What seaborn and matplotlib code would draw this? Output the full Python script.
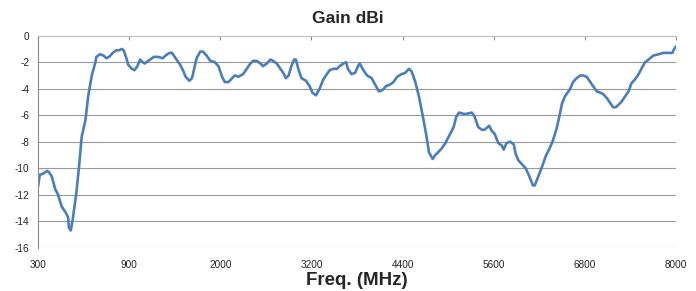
import numpy as np
import pandas as pd
import matplotlib
matplotlib.use("Agg")
import matplotlib.pyplot as plt
import seaborn as sns

# Category-axis position (0 = 300 MHz tick, 7 = 8000 MHz tick) and gain in dBi
pos = [0.00, 0.02, 0.06, 0.10, 0.12, 0.15, 0.19, 0.22, 0.26, 0.30, 0.33, 0.34, 0.36, 0.38,
       0.42, 0.45, 0.48, 0.52, 0.55, 0.59, 0.63, 0.64, 0.68, 0.72, 0.75, 0.78, 0.82, 0.86,
       0.89, 0.92, 0.94, 0.97, 0.99, 1.03, 1.06, 1.09, 1.12, 1.15, 1.17, 1.19, 1.23, 1.27,
       1.32, 1.37, 1.40, 1.44, 1.47, 1.52, 1.56, 1.59, 1.62, 1.66, 1.69, 1.71, 1.74, 1.78,
       1.81, 1.85, 1.89, 1.94, 1.98, 2.02, 2.05, 2.09, 2.13, 2.16, 2.20, 2.25, 2.29, 2.33,
       2.36, 2.40, 2.44, 2.47, 2.51, 2.55, 2.58, 2.62, 2.66, 2.69, 2.72, 2.75, 2.78, 2.81,
       2.83, 2.86, 2.89, 2.94, 2.98, 3.01, 3.05, 3.09, 3.13, 3.17, 3.20, 3.24, 3.28, 3.31,
       3.35, 3.38, 3.40, 3.44, 3.48, 3.51, 3.53, 3.57, 3.61, 3.66, 3.70, 3.74, 3.78, 3.82,
       3.86, 3.90, 3.94, 3.99, 4.03, 4.07, 4.10, 4.14, 4.18, 4.22, 4.26, 4.29, 4.33, 4.36,
       4.39, 4.43, 4.47, 4.50, 4.56, 4.59, 4.62, 4.67, 4.70, 4.76, 4.79, 4.83, 4.87, 4.90,
       4.95, 4.98, 5.01, 5.05, 5.09, 5.11, 5.14, 5.18, 5.22, 5.24, 5.27, 5.31, 5.35, 5.39,
       5.43, 5.45, 5.49, 5.53, 5.57, 5.62, 5.65, 5.69, 5.72, 5.75, 5.78, 5.84, 5.87, 5.91,
       5.95, 5.98, 6.02, 6.06, 6.09, 6.13, 6.17, 6.20, 6.24, 6.28, 6.31, 6.34, 6.37, 6.40,
       6.44, 6.48, 6.51, 6.55, 6.59, 6.62, 6.66, 6.70, 6.75, 6.81, 6.86, 6.92, 6.96, 6.98,
       7.00]
gain = [-11.4, -10.5, -10.4, -10.2, -10.3, -10.6, -11.6, -12.0, -12.9, -13.3, -13.7, -14.5, -14.7, -13.9,
        -11.9, -9.9, -7.6, -6.4, -4.6, -3.0, -2.0, -1.6, -1.4, -1.5, -1.7, -1.6, -1.3, -1.1,
        -1.1, -1.0, -1.1, -1.7, -2.2, -2.5, -2.6, -2.3, -1.8, -2.0, -2.1, -2.0, -1.8, -1.6,
        -1.6, -1.7, -1.5, -1.3, -1.3, -1.8, -2.2, -2.6, -3.1, -3.4, -3.2, -2.6, -1.7, -1.2,
        -1.2, -1.5, -1.9, -2.0, -2.3, -3.1, -3.5, -3.5, -3.2, -3.0, -3.1, -2.9, -2.5, -2.1,
        -1.9, -1.9, -2.1, -2.3, -2.1, -1.8, -1.9, -2.1, -2.5, -2.8, -3.2, -3.0, -2.3, -1.8,
        -1.8, -2.6, -3.2, -3.4, -3.8, -4.3, -4.5, -4.0, -3.3, -2.9, -2.6, -2.5, -2.5, -2.3,
        -2.1, -2.0, -2.5, -2.9, -2.8, -2.3, -2.1, -2.6, -3.0, -3.2, -3.7, -4.2, -4.1, -3.8,
        -3.7, -3.5, -3.1, -2.9, -2.8, -2.5, -2.7, -3.5, -4.6, -6.0, -7.5, -8.8, -9.3, -9.0,
        -8.8, -8.5, -8.1, -7.7, -6.9, -6.1, -5.8, -5.9, -5.9, -5.8, -6.1, -6.9, -7.1, -7.1,
        -6.8, -7.2, -7.4, -8.1, -8.3, -8.6, -8.1, -8.0, -8.2, -8.9, -9.4, -9.7, -10.0, -10.6,
        -11.3, -11.3, -10.6, -9.9, -9.1, -8.4, -7.9, -7.0, -6.1, -5.1, -4.6, -4.0, -3.5, -3.2,
        -3.0, -3.0, -3.1, -3.5, -3.8, -4.2, -4.3, -4.4, -4.7, -5.1, -5.4, -5.4, -5.2, -5.0,
        -4.6, -4.2, -3.6, -3.3, -2.9, -2.5, -2.0, -1.8, -1.5, -1.4, -1.3, -1.3, -1.3, -1.0,
        -0.8]
tick_labels = ["300", "900", "2000", "3200", "4400", "5600", "6800", "8000"]
y_ticks = [0, -2, -4, -6, -8, -10, -12, -14, -16]

df = pd.DataFrame({"pos": pos, "gain": gain})

sns.set_style("white")
plt.rcParams["font.family"] = ["Liberation Sans", "DejaVu Sans"]

fig = plt.figure(figsize=(6.96, 2.91), dpi=100)
ax = fig.add_axes([38 / 696, 1 - 247.7 / 291, 638 / 696, (247.7 - 35.7) / 291])

sns.lineplot(data=df, x="pos", y="gain", ax=ax, color="#4A7EBB", linewidth=1.9,
             estimator=None, sort=False)

ax.set_xlim(0, 7)
ax.set_ylim(-16, 0)
ax.set_xticks(range(len(tick_labels)))
ax.set_xticklabels(tick_labels)
ax.set_yticks(y_ticks)
ax.set_yticklabels([str(v) for v in y_ticks])

for v in y_ticks[1:]:
    ax.axhline(v, color="#9a9a9a", linewidth=0.8, zorder=0)

for s in ["right", "bottom"]:
    ax.spines[s].set_visible(False)
ax.spines["top"].set_color("#bdbdbd")
ax.spines["top"].set_linewidth(0.8)
ax.spines["left"].set_color("#8a8a8a")
ax.spines["left"].set_linewidth(0.8)

ax.tick_params(axis="x", which="both", top=True, bottom=False, direction="in",
               length=3, color="#8a8a8a", width=0.8, labelbottom=True, labeltop=False,
               labelsize=7.2, labelcolor="#222222", pad=9)
ax.tick_params(axis="y", direction="out", length=3, color="#8a8a8a", width=0.8,
               labelsize=7.2, labelcolor="#222222", pad=3)

ax.set_title("Gain dBi", fontsize=12.5, fontweight="bold", pad=9, x=(348 - 38) / 638)
ax.set_xlabel("Freq. (MHz)", fontsize=13.5, fontweight="bold", labelpad=1)
ax.set_ylabel("")

fig.savefig("out.png", dpi=100, facecolor="white")
